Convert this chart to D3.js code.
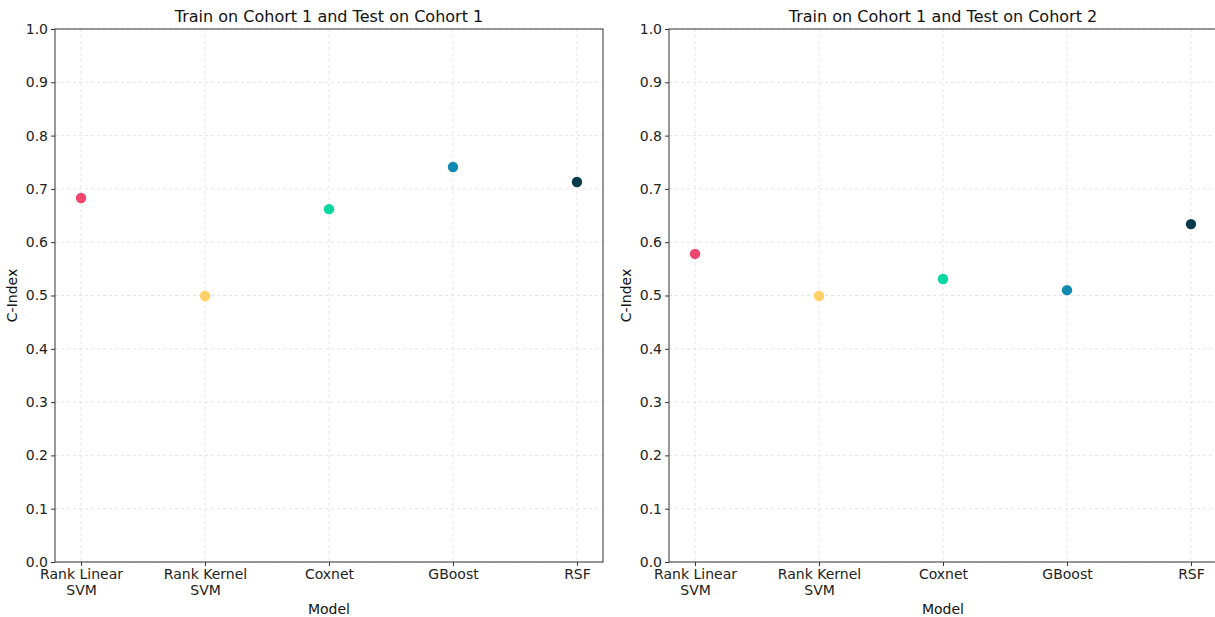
<!DOCTYPE html>
<html>
<head>
<meta charset="utf-8">
<script src="https://d3js.org/d3.v7.min.js"></script>
<style>
  body{margin:0;background:#fff;}
  svg text{font-family:"DejaVu Sans",sans-serif;}
  .tick text{font-size:14px;fill:#222;}
  .grid line{stroke:#ddd;stroke-dasharray:3,3;stroke-width:0.8;}
</style>
</head>
<body>
<svg width="1215" height="617"></svg>
<script>
// models along the x axis
var models = ["Rank Linear SVM", "Rank Kernel SVM", "Coxnet", "GBoost", "RSF"];
var modelLines = [["Rank Linear", "SVM"], ["Rank Kernel", "SVM"], ["Coxnet"], ["GBoost"], ["RSF"]];
var colors = ["#ef476f", "#ffd166", "#06d6a0", "#118ab2", "#073b4c"];
// c-index values
var cohort1 = [0.683, 0.499, 0.662, 0.741, 0.713];
var cohort2 = [0.578, 0.499, 0.531, 0.510, 0.634];
var titles = ["Train on Cohort 1 and Test on Cohort 1", "Train on Cohort 1 and Test on Cohort 2"];
var yTicks = [0, 0.1, 0.2, 0.3, 0.4, 0.5, 0.6, 0.7, 0.8, 0.9, 1.0];

var svg = d3.select("svg");
var w = 548, h = 533, marginTop = 29;

function panel(left, title, vals) {
  var g = svg.append("g").attr("transform", "translate(" + left + "," + marginTop + ")");
  // matplotlib-like margins on the category axis
  var x = d3.scalePoint().domain(models).range([0, w]).padding(0.21);
  var y = d3.scaleLinear().domain([0, 1]).range([h, 0]);

  // grid
  g.append("g").attr("class", "grid").selectAll("line").data(yTicks).join("line")
    .attr("x1", 0).attr("x2", w).attr("y1", d => y(d)).attr("y2", d => y(d));
  g.append("g").attr("class", "grid").selectAll("line").data(models).join("line")
    .attr("y1", 0).attr("y2", h).attr("x1", d => x(d)).attr("x2", d => x(d));

  // axes
  g.append("g").call(d3.axisLeft(y).tickValues(yTicks).tickFormat(d3.format(".1f")).tickSize(4).tickPadding(3));
  var xa = g.append("g").attr("transform", "translate(0," + h + ")")
    .call(d3.axisBottom(x).tickSize(4).tickPadding(3));
  xa.selectAll(".tick text").each(function(d, i) {
    var t = d3.select(this).text(null);
    modelLines[i].forEach(function(s, j) {
      t.append("tspan").attr("x", 0).attr("dy", j == 0 ? "0.71em" : "1.15em").text(s);
    });
  });
  g.selectAll(".domain").remove();
  g.selectAll(".tick line").attr("stroke", "#333");

  // frame
  g.append("rect").attr("width", w).attr("height", h)
    .attr("fill", "none").attr("stroke", "#333").attr("stroke-width", 1);

  // points
  g.selectAll("circle.pt").data(vals).join("circle").attr("class", "pt")
    .attr("cx", (d, i) => x(models[i])).attr("cy", d => y(d)).attr("r", 5.2)
    .attr("fill", (d, i) => colors[i]);

  g.append("text").attr("x", w / 2).attr("y", -7).attr("text-anchor", "middle")
    .attr("font-size", 16).attr("fill", "#111").text(title);
  g.append("text").attr("x", w / 2).attr("y", h + 52).attr("text-anchor", "middle")
    .attr("font-size", 14).attr("fill", "#111").text("Model");
  g.append("text").attr("transform", "translate(-38," + (h / 2) + ") rotate(-90)")
    .attr("text-anchor", "middle").attr("font-size", 14).attr("fill", "#111").text("C-Index");
}

panel(55, titles[0], cohort1);
panel(669, titles[1], cohort2);
</script>
</body>
</html>
